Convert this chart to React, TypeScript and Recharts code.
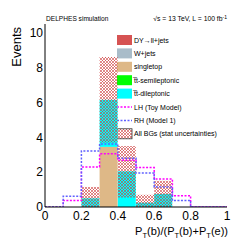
import React from 'react';
import { ComposedChart, Bar, Line, XAxis, YAxis } from 'recharts';

// bins of width 0.1 on P_T(b)/(P_T(b)+P_T(e))
const bins = ['0.0', '0.1', '0.2', '0.3', '0.4', '0.5', '0.6', '0.7', '0.8', '0.9'];
const binEdges = [0, 0.1, 0.2, 0.3, 0.4, 0.5, 0.6, 0.7, 0.8, 0.9, 1.0];

// stacked backgrounds
const singletop = [0, 0, 0, 3.45, 0, 0, 0, 0, 0, 0];
const ttDileptonic = [0, 0, 0.5, 2.7, 2.05, 0.25, 0.75, 0, 0, 0];
const ttSemileptonic = [0, 0, 0, 0, 0, 0, 0, 0, 0, 0];
const wJets = [0, 0, 0, 0, 0, 0, 0, 0, 0, 0];
const dyJets = [0, 0, 0, 0, 0, 0, 0, 0, 0, 0];

// stat uncertainty band of all backgrounds
const bgLow = [0, 0, 0, 3.7, 0.55, 0, 0, 0, 0, 0];
const bgHigh = [0, 0, 1.15, 8.6, 3.5, 0.7, 1.5, 0, 0, 0];

// signal models
const lhToy = [0, 0.38, 2.3, 3.05, 2.68, 2.26, 1.6, 0.65, 0, 0];
const rhModel1 = [0, 0.62, 3.22, 3.62, 2.8, 1.95, 1.15, 0.38, 0, 0];

const xTicks = [0, 0.2, 0.4, 0.6, 0.8, 1];
const yTicks = [0, 2, 4, 6, 8, 10];
const xMinor = Array.from({ length: 51 }, (_, i) => +(i * 0.02).toFixed(2));
const yMinor = Array.from({ length: 22 }, (_, i) => i * 0.5);

const legendItems = [
  { label: 'DY\u2192ll+jets', kind: 'fill', color: '#d65353' },
  { label: 'W+jets', kind: 'fill', color: '#a9bcc9' },
  { label: 'singletop', kind: 'fill', color: '#deb887' },
  { label: 't\u0305t-semileptonic', kind: 'fill', color: '#00ff00' },
  { label: 't\u0305t-dileptonic', kind: 'fill', color: '#00ffff' },
  { label: 'LH (Toy Model)', kind: 'line', color: '#ff00ff' },
  { label: 'RH (Model 1)', kind: 'line', color: '#6060ff' },
  { label: 'All BGs (stat uncertainties)', kind: 'hatch', color: '#333' },
];

const data = bins.map((b, i) => ({
  bin: b,
  singletop: singletop[i],
  ttDileptonic: ttDileptonic[i],
  ttSemileptonic: ttSemileptonic[i],
  wJets: wJets[i],
  dyJets: dyJets[i],
  bandBase: bgLow[i],
  bandErr: bgHigh[i] - bgLow[i],
}));

const stepData = (vals: number[]) =>
  binEdges.map((x, i) => ({ x, v: vals[Math.min(i, vals.length - 1)] }));

const lhData = stepData(lhToy);
const rhData = stepData(rhModel1);

const FONT = '"Liberation Sans", Arial, Helvetica, sans-serif';
const noLabel = () => <g />;
const Y_DOMAIN: [number, number] = [0, 10.5];

export default function App() {
  const legendX = 109;
  const legendY0 = 32;
  const legendStep = 13.4;
  return (
    <div style={{ fontFamily: FONT }}>
      <ComposedChart
        width={244}
        height={235}
        data={data}
        margin={{ top: 16, right: 25, bottom: 16, left: 17 }}
        barCategoryGap={0}
        barGap={0}
      >
        <defs>
          <pattern id="hatchBG" patternUnits="userSpaceOnUse" width="3" height="3">
            <path d="M0,3 L3,0 M-0.75,0.75 L0.75,-0.75 M2.25,3.75 L3.75,2.25" stroke="#cc3a3a" strokeWidth="0.6" />
            <path d="M0,0 L3,3 M-0.75,2.25 L0.75,3.75 M2.25,-0.75 L3.75,0.75" stroke="#cc3a3a" strokeWidth="0.6" />
          </pattern>
        </defs>

        <XAxis xAxisId="cat" dataKey="bin" type="category" hide height={0} />
        <XAxis xAxisId="cat2" dataKey="bin" type="category" hide height={0} />
        <XAxis
          xAxisId="num"
          dataKey="x"
          type="number"
          domain={[0, 1]}
          allowDataOverflow
          ticks={xTicks}
          interval={0}
          height={20}
          tickLine={false}
          tickSize={0}
          tickMargin={4}
          axisLine={{ stroke: '#000' }}
          tick={{ fill: '#000', fontSize: 12, fontFamily: FONT }}
        />
        <XAxis xAxisId="xMaj" type="number" domain={[0, 1]} allowDataOverflow mirror height={0} ticks={xTicks} interval={0} tickSize={5} tick={noLabel} axisLine={false} tickLine={{ stroke: '#000' }} />
        <XAxis xAxisId="xMin" type="number" domain={[0, 1]} allowDataOverflow mirror height={0} ticks={xMinor} interval={0} tickSize={2.5} tick={noLabel} axisLine={false} tickLine={{ stroke: '#000' }} />
        <XAxis xAxisId="xMajT" orientation="top" type="number" domain={[0, 1]} allowDataOverflow mirror height={0} ticks={xTicks} interval={0} tickSize={5} tick={noLabel} axisLine={{ stroke: '#000' }} tickLine={{ stroke: '#000' }} />
        <XAxis xAxisId="xMinT" orientation="top" type="number" domain={[0, 1]} allowDataOverflow mirror height={0} ticks={xMinor} interval={0} tickSize={2.5} tick={noLabel} axisLine={false} tickLine={{ stroke: '#000' }} />

        <YAxis
          yAxisId="y"
          type="number"
          domain={Y_DOMAIN}
          allowDataOverflow
          ticks={yTicks}
          interval={0}
          width={20}
          tickLine={false}
          tickSize={0}
          tickMargin={2}
          axisLine={{ stroke: '#000' }}
          tick={{ fill: '#000', fontSize: 12, fontFamily: FONT }}
        />
        <YAxis yAxisId="yMaj" type="number" domain={Y_DOMAIN} allowDataOverflow mirror width={0} ticks={yTicks} interval={0} tickSize={5} tick={noLabel} axisLine={false} tickLine={{ stroke: '#000' }} />
        <YAxis yAxisId="yMin" type="number" domain={Y_DOMAIN} allowDataOverflow mirror width={0} ticks={yMinor} interval={0} tickSize={2.5} tick={noLabel} axisLine={false} tickLine={{ stroke: '#000' }} />
        <YAxis yAxisId="yMajR" orientation="right" type="number" domain={Y_DOMAIN} allowDataOverflow mirror width={0} ticks={yTicks} interval={0} tickSize={5} tick={noLabel} axisLine={{ stroke: '#000' }} tickLine={{ stroke: '#000' }} />
        <YAxis yAxisId="yMinR" orientation="right" type="number" domain={Y_DOMAIN} allowDataOverflow mirror width={0} ticks={yMinor} interval={0} tickSize={2.5} tick={noLabel} axisLine={false} tickLine={{ stroke: '#000' }} />

        <Bar xAxisId="cat" yAxisId="y" stackId="bg" dataKey="singletop" fill="#deb887" isAnimationActive={false} />
        <Bar xAxisId="cat" yAxisId="y" stackId="bg" dataKey="ttDileptonic" fill="#00ffff" isAnimationActive={false} />
        <Bar xAxisId="cat" yAxisId="y" stackId="bg" dataKey="ttSemileptonic" fill="#00ff00" isAnimationActive={false} />
        <Bar xAxisId="cat" yAxisId="y" stackId="bg" dataKey="wJets" fill="#a9bcc9" isAnimationActive={false} />
        <Bar xAxisId="cat" yAxisId="y" stackId="bg" dataKey="dyJets" fill="#d65353" isAnimationActive={false} />

        <Bar xAxisId="cat2" yAxisId="y" stackId="band" dataKey="bandBase" fill="none" isAnimationActive={false} />
        <Bar xAxisId="cat2" yAxisId="y" stackId="band" dataKey="bandErr" fill="url(#hatchBG)" isAnimationActive={false} />

        <Line xAxisId="num" yAxisId="y" data={lhData} dataKey="v" type="stepAfter" stroke="#ff00ff" strokeWidth={1.5} strokeDasharray="2 1.5" dot={false} activeDot={false} isAnimationActive={false} />
        <Line xAxisId="num" yAxisId="y" data={rhData} dataKey="v" type="stepAfter" stroke="#6060ff" strokeWidth={1.5} strokeDasharray="2 1.5" dot={false} activeDot={false} isAnimationActive={false} />

        {/* texts */}
        <text x={38} y={13.3} fontSize={6.6} fontFamily={FONT} fill="#000">DELPHES simulation</text>
        <text x={219} y={13.3} fontSize={6.8} fontFamily={FONT} fill="#000" textAnchor="end">
          {'\u221As = 13 TeV, L = 100 fb'}
          <tspan dy={-2.5} fontSize={5}>-1</tspan>
        </text>
        <text x={13} y={19} fontSize={13} fontFamily={FONT} fill="#000" textAnchor="end" transform="rotate(-90 13 19)">Events</text>
        <text x={220} y={227} fontSize={11} fontFamily={FONT} fill="#000" textAnchor="end">
          P<tspan dy={2.5} fontSize={7.5}>T</tspan>
          <tspan dy={-2.5}>(b)/(P</tspan>
          <tspan dy={2.5} fontSize={7.5}>T</tspan>
          <tspan dy={-2.5}>(b)+P</tspan>
          <tspan dy={2.5} fontSize={7.5}>T</tspan>
          <tspan dy={-2.5}>(e))</tspan>
        </text>

        {/* legend */}
        {legendItems.map((it, i) => {
          const cy = legendY0 + i * legendStep;
          return (
            <g key={it.label}>
              {it.kind === 'fill' && (
                <rect x={legendX} y={cy - 5} width={15} height={10} fill={it.color} />
              )}
              {it.kind === 'line' && (
                <line x1={legendX} x2={legendX + 15} y1={cy} y2={cy} stroke={it.color} strokeWidth={1.5} strokeDasharray="2 1.5" />
              )}
              {it.kind === 'hatch' && (
                <rect x={legendX} y={cy - 5} width={15} height={10} fill="url(#hatchBG)" stroke={it.color} strokeWidth={0.8} />
              )}
              <text x={legendX + 17} y={cy + 2.5} fontSize={7} fontFamily={FONT} fill="#000">{it.label}</text>
            </g>
          );
        })}
      </ComposedChart>
    </div>
  );
}
